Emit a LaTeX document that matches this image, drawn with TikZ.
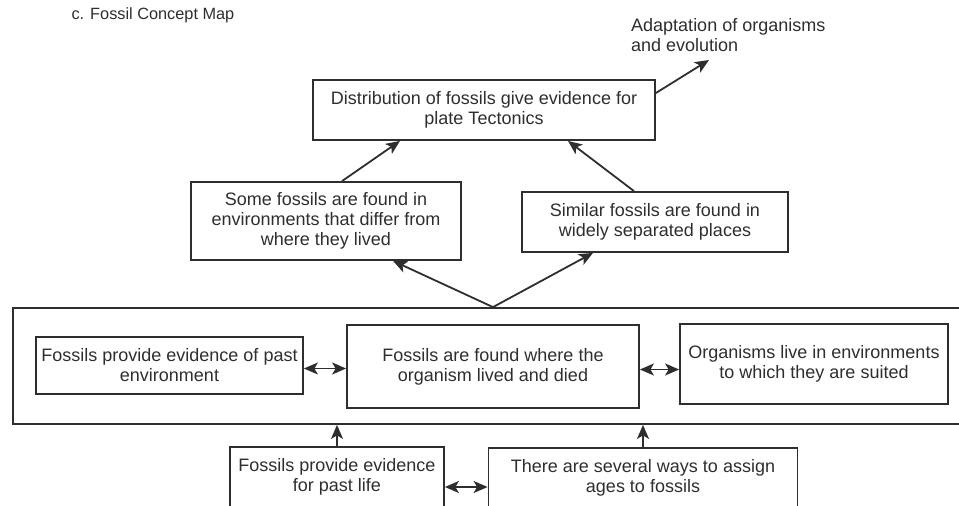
\documentclass[tikz,border=0pt]{standalone}
\usepackage{fontspec}
\setmainfont{Liberation Sans}
\usetikzlibrary{arrows.meta,positioning}
\definecolor{ink}{HTML}{2E2E2E}
\begin{document}
\begin{tikzpicture}[x=1pt,y=-1pt,
    box/.style={draw=ink,line width=1.8pt,align=center,inner sep=0pt,text=ink,
                font=\fontsize{18}{20}\selectfont},
    arr/.style={draw=ink,line width=1.8pt,-{Stealth[length=14pt,width=12pt,inset=3.5pt]}},
    dbl/.style={draw=ink,line width=1.8pt,{Stealth[length=14pt,width=12pt,inset=3.5pt]}-{Stealth[length=14pt,width=12pt,inset=3.5pt]}}]
    \clip (0,0) rectangle (959,506);
    \node[anchor=west,text=ink,font=\fontsize{16.3}{18}\selectfont] (title) at (68,15) {c. Fossil Concept Map};
    % top row
    \node[box,minimum width=342pt,minimum height=60pt] (dist) at (484,110)
        {Distribution of fossils give evidence for\\plate Tectonics};
    \node[anchor=west,align=left,inner sep=0pt,text=ink,font=\fontsize{18}{20}\selectfont] (adapt) at (631,35)
        {Adaptation of organisms\\and evolution};
    \coordinate (adtip) at (709,60);
    \node[box,minimum width=270pt,minimum height=78pt] (some) at (326,221)
        {Some fossils are found in\\environments that differ from\\where they lived};
    \node[box,minimum width=266pt,minimum height=60pt] (similar) at (655,222)
        {Similar fossils are found in\\widely separated places};
    % middle frame
    \node[box,minimum width=962pt,minimum height=116pt] (frame) at (494,366) {};
    \node[box,minimum width=267pt,minimum height=57pt] (env) at (169.5,365.5)
        {Fossils provide evidence of past\\environment};
    \node[box,minimum width=292pt,minimum height=83pt] (found) at (493,366.5)
        {Fossils are found where the\\organism lived and died};
    \node[box,minimum width=268pt,minimum height=80pt] (org) at (814,364)
        {Organisms live in environments\\to which they are suited};
    \coordinate (j) at (found |- frame.north);
    % bottom row
    \node[box,minimum width=214pt,minimum height=60pt] (life) at (337,477)
        {Fossils provide evidence\\for past life};
    \node[box,minimum width=309pt,minimum height=60pt] (ways) at (643,478)
        {There are several ways to assign\\ages to fossils};

    \draw[arr] ([xshift=16pt]some.north) -- ([xshift=-84pt]dist.south);
    \draw[arr] ([xshift=-21pt]similar.north) -- ([xshift=84pt]dist.south);
    \draw[arr] ([yshift=17pt]dist.east) -- (adtip);
    \draw[arr] (j) -- ([xshift=67pt]some.south);
    \draw[arr] (j) -- ([xshift=-62pt]similar.south);
    \draw[dbl] ([yshift=-3pt]env.east) -- ([yshift=-3pt]env.east -| found.west);
    \draw[dbl] ([yshift=-3pt]found.east) -- ([yshift=-3pt]found.east -| org.west);
    \draw[arr] (life.north) -- (life.north |- frame.south);
    \draw[arr] (ways.north) -- (ways.north |- frame.south);
    \draw[dbl] ([yshift=-10pt]life.east) -- ([yshift=-10pt]life.east -| ways.west);
\end{tikzpicture}
\end{document}
